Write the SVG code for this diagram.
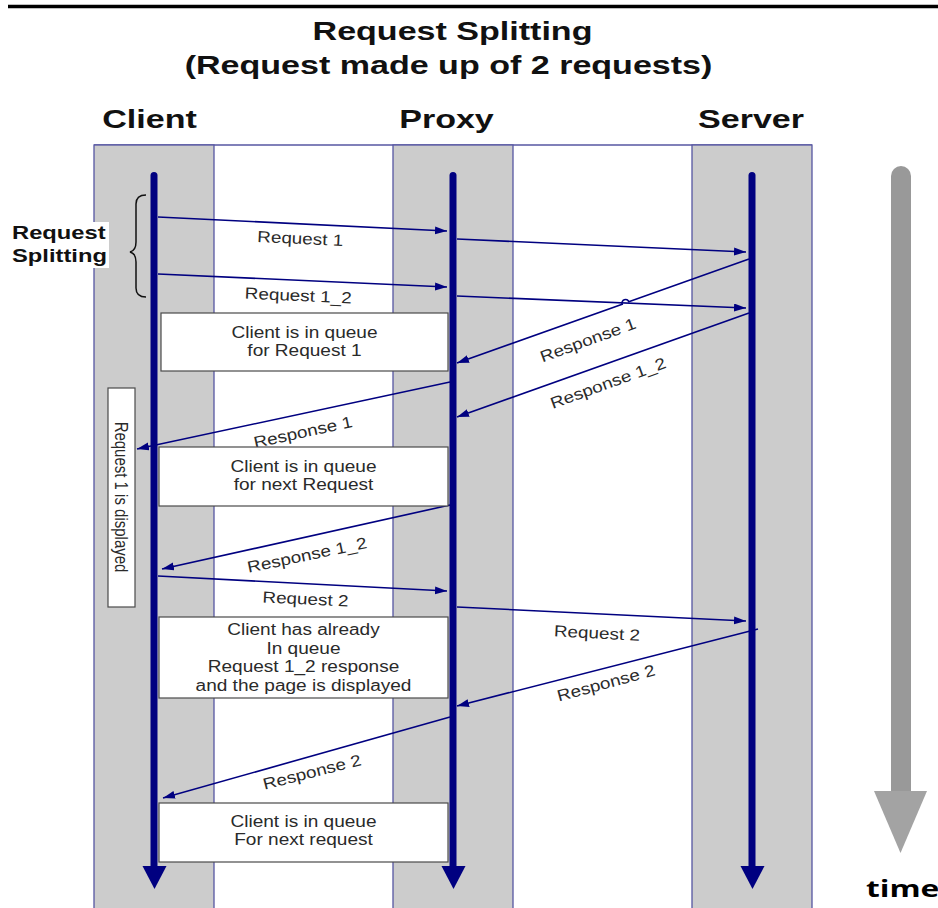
<svg xmlns="http://www.w3.org/2000/svg" width="938" height="908" viewBox="0 0 938 908">
  <style>
    .lane { fill: #cccccc; stroke: #5656a2; stroke-width: 1.3; }
    .lifeline { stroke: #000080; stroke-width: 7; stroke-linecap: round; fill: none; }
    .lifehead { fill: #000080; }
    .msg { stroke: #000080; stroke-width: 1.6; fill: none; marker-end: url(#arr); }
    .box { fill: #ffffff; stroke: #4a4a4a; stroke-width: 1.2; }
    .title { font-family: "Liberation Sans", Arial, sans-serif; font-weight: bold; font-size: 26px; fill: #111111; text-anchor: middle; }
    .side { font-family: "Liberation Sans", Arial, sans-serif; font-weight: bold; font-size: 18px; fill: #111111; }
    .body { font-family: "Liberation Sans", Arial, sans-serif; font-size: 16px; fill: #2a2a2a; text-anchor: middle; }
    .time { font-family: "Open Sans", "DejaVu Sans", sans-serif; font-weight: bold; font-size: 23px; fill: #000000; }
  </style>
  <defs>
    <marker id="arr" markerUnits="userSpaceOnUse" markerWidth="13" markerHeight="9" refX="12" refY="4" orient="auto">
      <path d="M0,0 L12,4 L0,8 Z" fill="#000080"/>
    </marker>
  </defs>

  <rect x="0" y="0" width="938" height="908" fill="#ffffff"/>
  <line x1="8" y1="6.5" x2="938" y2="6.5" stroke="#000000" stroke-width="3.5"/>

  <g id="title">
    <text class="title" transform="translate(452.5,40) scale(1.31,1)">Request Splitting</text>
    <text class="title" transform="translate(448.5,74) scale(1.31,1)">(Request made up of 2 requests)</text>
  </g>

  <g id="lanes">
    <line x1="94" y1="145" x2="812" y2="145" stroke="#5656a2" stroke-width="1.3"/>
  </g>

  <g id="client">
    <rect class="lane" x="94" y="145" width="120" height="770"/>
    <text class="title" transform="translate(149.5,128) scale(1.31,1)">Client</text>
    <line class="lifeline" x1="154" y1="175.5" x2="154" y2="872"/>
    <polygon class="lifehead" points="142.5,866 166.5,866 154.5,889"/>
  </g>

  <g id="proxy">
    <rect class="lane" x="393" y="145" width="120" height="770"/>
    <text class="title" transform="translate(446.5,128) scale(1.31,1)">Proxy</text>
    <line class="lifeline" x1="453" y1="175.5" x2="453" y2="872"/>
    <polygon class="lifehead" points="441.5,866 465.5,866 453.5,889"/>
  </g>

  <g id="server">
    <rect class="lane" x="692" y="145" width="120" height="770"/>
    <text class="title" transform="translate(751,128) scale(1.31,1)">Server</text>
    <line class="lifeline" x1="752" y1="175.5" x2="752" y2="872"/>
    <polygon class="lifehead" points="740.5,866 764.5,866 752.5,889"/>
  </g>

  <g id="request-splitting-label">
    <rect x="8" y="222" width="101" height="46" fill="#ffffff"/>
    <text class="side" transform="translate(12,239) scale(1.32,1)">Request</text>
    <text class="side" transform="translate(12,262) scale(1.32,1)">Splitting</text>
    <path d="M146,195 C140,195 136,198 136,204 L136,242 C136,248 134,251 130,252 C134,253 136,256 136,262 L136,288 C136,294 140,297 146,297" fill="none" stroke="#111111" stroke-width="1.5"/>
  </g>

  <g id="connectors">
    <line class="msg" x1="158" y1="217" x2="447" y2="231"/>
    <line class="msg" x1="457" y1="239" x2="746" y2="252"/>
    <line class="msg" x1="158" y1="274" x2="447" y2="287"/>
    <line class="msg" x1="457" y1="296" x2="746" y2="308"/>
    <path class="msg" d="M749,259 L628.8,301.8 A3.5,3.5 0 0 0 622.2,304.2 L457,363"/>
    <line class="msg" x1="749" y1="313" x2="457" y2="417"/>
    <line class="msg" x1="450" y1="382" x2="137" y2="449"/>
    <line class="msg" x1="450" y1="505" x2="162" y2="569"/>
    <line class="msg" x1="158" y1="576" x2="447" y2="591"/>
    <line class="msg" x1="457" y1="607" x2="746" y2="621"/>
    <line class="msg" x1="758" y1="629" x2="457" y2="706"/>
    <line class="msg" x1="450" y1="717" x2="163" y2="798"/>
  </g>

  <g id="connector-labels">
    <text class="body" transform="translate(300,244) rotate(2.8) scale(1.18,1)">Request 1</text>
    <text class="body" transform="translate(298,301) rotate(2.6) scale(1.18,1)">Request 1_2</text>
    <text class="body" transform="translate(588,340) rotate(-20) scale(1.18,1)" y="5.5">Response 1</text>
    <text class="body" transform="translate(608,383) rotate(-20) scale(1.18,1)" y="5.5">Response 1_2</text>
    <text class="body" transform="translate(303,432) rotate(-12.2) scale(1.18,1)" y="5.5">Response 1</text>
    <text class="body" transform="translate(307,555) rotate(-11.8) scale(1.18,1)" y="5.5">Response 1_2</text>
    <text class="body" transform="translate(305.5,599) rotate(2.8) scale(1.18,1)" y="5.5">Request 2</text>
    <text class="body" transform="translate(597,633) rotate(3) scale(1.18,1)" y="5.5">Request 2</text>
    <text class="body" transform="translate(606,683) rotate(-15.2) scale(1.18,1)" y="5.5">Response 2</text>
    <text class="body" transform="translate(312,772) rotate(-14.3) scale(1.18,1)" y="5.5">Response 2</text>
  </g>

  <g id="box-queue-request1">
    <rect class="box" x="161" y="313" width="287" height="58"/>
    <text class="body" transform="translate(304.5,338) scale(1.19,1)">Client is in queue</text>
    <text class="body" transform="translate(304.5,356) scale(1.19,1)">for Request 1</text>
  </g>

  <g id="box-queue-next">
    <rect class="box" x="159" y="447" width="289" height="59"/>
    <text class="body" transform="translate(303.5,471.5) scale(1.19,1)">Client is in queue</text>
    <text class="body" transform="translate(303.5,489.5) scale(1.19,1)">for next Request</text>
  </g>

  <g id="box-already-queued">
    <rect class="box" x="159" y="617" width="289" height="81"/>
    <text class="body" transform="translate(303.5,635) scale(1.19,1)">Client has already</text>
    <text class="body" transform="translate(303.5,653.5) scale(1.19,1)">In queue</text>
    <text class="body" transform="translate(303.5,672) scale(1.19,1)">Request 1_2 response</text>
    <text class="body" transform="translate(303.5,690.5) scale(1.19,1)">and the page is displayed</text>
  </g>

  <g id="box-queue-next-request">
    <rect class="box" x="159" y="803" width="289" height="59"/>
    <text class="body" transform="translate(303.5,827) scale(1.19,1)">Client is in queue</text>
    <text class="body" transform="translate(303.5,845) scale(1.19,1)">For next request</text>
  </g>

  <g id="box-displayed">
    <rect class="box" x="108" y="388" width="27" height="219"/>
    <text class="body" transform="translate(122,497) scale(1.19,1) rotate(90)" y="5.5" style="font-size:15px">Request 1 is displayed</text>
  </g>

  <g id="time">
    <path d="M891,792 V176 A10,10 0 0 1 911,176 V792 Z" fill="#999999"/>
    <polygon points="874,791 927,791 900.5,853" fill="#a3a3a3"/>
    <text class="time" transform="translate(866,897) scale(1.38,1)">time</text>
  </g>
</svg>
